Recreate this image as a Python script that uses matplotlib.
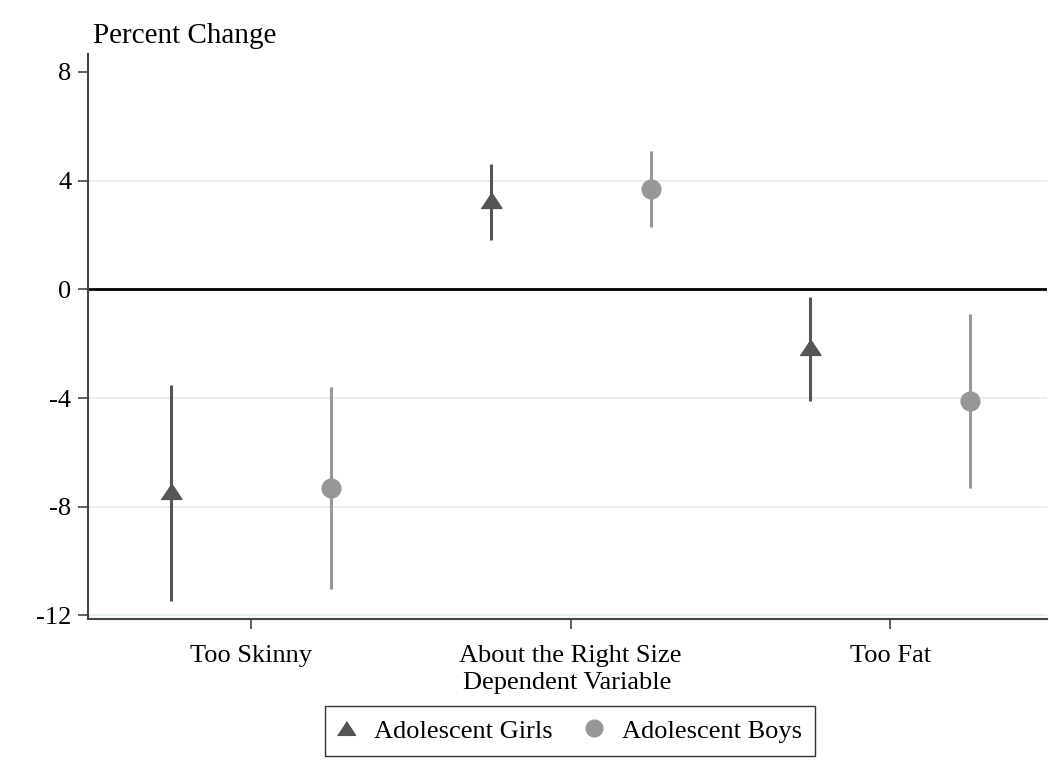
import numpy as np
import matplotlib
matplotlib.use('Agg')
import matplotlib.pyplot as plt
from matplotlib.lines import Line2D

# estimates and 95% confidence bounds, by outcome
categories = ['Too Skinny', 'About the Right Size', 'Too Fat']
girls_est = [-7.41, 3.28, -2.13]
girls_lo = [-11.46, 1.83, -4.12]
girls_hi = [-3.52, 4.60, -0.28]
boys_est = [-7.32, 3.69, -4.10]
boys_lo = [-11.03, 2.30, -7.30]
boys_hi = [-3.61, 5.10, -0.92]
y_ticks = [-12, -8, -4, 0, 4, 8]

GIRLS_COLOR = '#555555'
BOYS_COLOR = '#979797'
GRID_COLOR = '#e8eff1'
TRI = [(-1, -0.76), (1, -0.76), (0, 0.76)]

plt.rcParams['font.family'] = ['Liberation Serif', 'DejaVu Serif']
plt.rcParams['font.size'] = 19

fig = plt.figure(figsize=(10.49, 7.70), dpi=100)
ax = fig.add_axes([88 / 1049, 1 - 619 / 770, (1047 - 88) / 1049, (619 - 54) / 770])

x = np.arange(1, len(categories) + 1)
off = 0.25

for yv in [-12, -8, -4, 4]:
    ax.axhline(yv, color=GRID_COLOR, lw=1.5, zorder=0)
ax.axhline(0, color='black', lw=2, zorder=1)

ax.vlines(x - off, girls_lo, girls_hi, color=GIRLS_COLOR, lw=2.2, zorder=2)
ax.plot(x - off, girls_est, linestyle='none', marker=TRI, ms=15,
        color=GIRLS_COLOR, zorder=3)
ax.vlines(x + off, boys_lo, boys_hi, color=BOYS_COLOR, lw=2.2, zorder=2)
ax.plot(x + off, boys_est, linestyle='none', marker='o', ms=13.5,
        color=BOYS_COLOR, zorder=3)

ax.set_xlim(0.49, 3.49)
ax.set_ylim(-12.13, 8.66)
ax.set_yticks(y_ticks)
ax.set_yticklabels([str(v) for v in y_ticks])
ax.set_xticks(x)
ax.set_xticklabels(categories)
ax.set_xlabel('Dependent Variable', labelpad=3)

for side in ['top', 'right']:
    ax.spines[side].set_visible(False)
for side in ['left', 'bottom']:
    ax.spines[side].set_color('#444444')
    ax.spines[side].set_linewidth(1.5)
ax.tick_params(axis='both', length=7, width=1.2, color='#444444', pad=5)
ax.tick_params(axis='x', pad=12)

fig.text(93 / 1049, 1 - 36 / 770, 'Percent Change', ha='left', va='center',
         fontsize=21)

handles = [
    Line2D([], [], linestyle='none', marker=TRI, ms=13, color=GIRLS_COLOR),
    Line2D([], [], linestyle='none', marker='o', ms=12, color=BOYS_COLOR),
]
fig.legend(handles, ['Adolescent Girls', 'Adolescent Boys'], loc='upper center',
           bbox_to_anchor=(570 / 1049, 1 - 706 / 770), ncol=2, frameon=True,
           fancybox=False, edgecolor='black', handlelength=0.6,
           handletextpad=0.75, columnspacing=1.3, borderpad=0.5,
           borderaxespad=0)

fig.savefig('out.png', dpi=100, facecolor='white')
